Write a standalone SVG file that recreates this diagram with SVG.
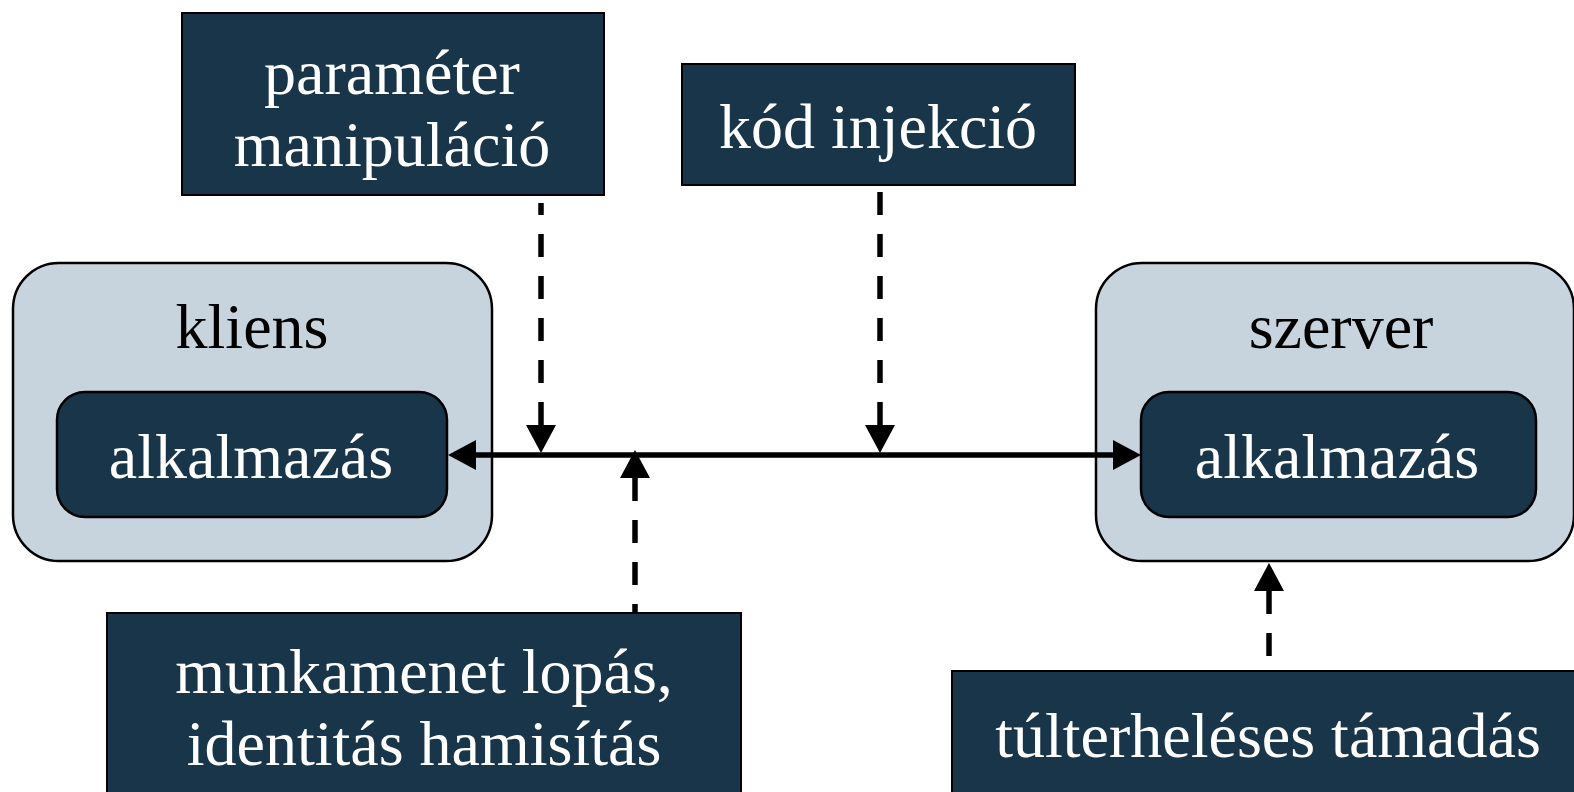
<svg xmlns="http://www.w3.org/2000/svg" width="1574" height="792" viewBox="0 0 1574 792">
<style>
.outer{fill:#c7d4dd;stroke:#000;stroke-width:2.5}
.inner{fill:#183549;stroke:#000;stroke-width:2.5}
.attack{fill:#183549;stroke:#000;stroke-width:2}
.t{font-family:"Liberation Serif","Times New Roman",serif;font-size:64px;text-anchor:middle}
.w{fill:#fff}
.b{fill:#000}
.line{fill:none;stroke:#000;stroke-width:5.5}
.dash{fill:none;stroke:#000;stroke-width:5.5;stroke-dasharray:23 19;marker-start:url(#head)}
</style>
<defs>
<marker id="head" viewBox="0 0 28 30" refX="0" refY="15" markerWidth="28" markerHeight="30" markerUnits="userSpaceOnUse" orient="auto-start-reverse">
<path d="M0 0 L28 15 L0 30 Z" fill="#000"/>
</marker>
</defs>
<g id="kliens">
<rect class="outer" x="13" y="263" width="479" height="298" rx="46"/>
<text class="t b" x="252" y="348">kliens</text>
</g>
<g id="kliens-alkalmazas">
<rect class="inner" x="57" y="392" width="390" height="125" rx="28"/>
<text class="t w" x="251" y="478">alkalmazás</text>
</g>
<g id="szerver">
<rect class="outer" x="1096" y="263" width="478" height="298" rx="46"/>
<text class="t b" x="1341" y="348">szerver</text>
</g>
<g id="szerver-alkalmazas">
<rect class="inner" x="1141" y="392" width="395" height="125" rx="28"/>
<text class="t w" x="1337" y="478">alkalmazás</text>
</g>
<g id="parameter-manipulacio">
<rect class="attack" x="182" y="13" width="422" height="182"/>
<text class="t w" x="392" y="94">paraméter</text>
<text class="t w" x="392" y="166">manipuláció</text>
</g>
<g id="kod-injekcio">
<rect class="attack" x="682" y="64" width="393" height="121"/>
<text class="t w" x="878" y="148">kód injekció</text>
</g>
<g id="munkamenet-lopas">
<rect class="attack" x="107" y="613" width="634" height="185"/>
<text class="t w" x="424" y="693">munkamenet lopás,</text>
<text class="t w" x="424" y="765">identitás hamisítás</text>
</g>
<g id="tulterheleses-tamadas">
<rect class="attack" x="952" y="671" width="625" height="130"/>
<text class="t w" x="1268" y="757">túlterheléses támadás</text>
</g>
<g id="connectors">
<path class="line" d="M476 455 H1113" marker-start="url(#head)" marker-end="url(#head)"/>
<path class="dash" d="M541 425 V203"/>
<path class="dash" d="M880 425 V190"/>
<path class="dash" d="M635 478 V613"/>
<path class="dash" d="M1269 591 V671"/>
</g>
</svg>
